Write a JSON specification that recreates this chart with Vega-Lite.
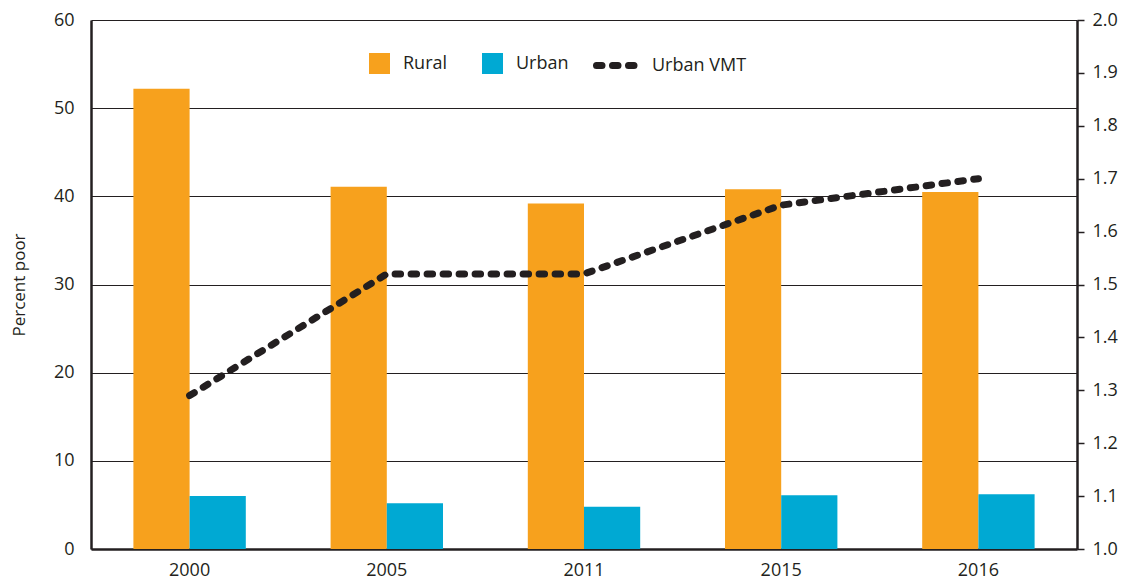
{
  "$schema": "https://vega.github.io/schema/vega-lite/v6.json",
  "width": 986,
  "height": 529,
  "autosize": "none",
  "padding": {"left": 91, "top": 20, "right": 53, "bottom": 34},
  "background": "white",
  "config": {
    "font": "Open Sans",
    "view": {"stroke": null},
    "axis": {"labelFont": "Open Sans", "titleFont": "Open Sans", "labelColor": "#231f20", "titleColor": "#231f20"}
  },
  "datasets": {
    "bars": [
      {"year": "2000", "type": "Rural", "value": 52.2},
      {"year": "2000", "type": "Urban", "value": 6.0},
      {"year": "2005", "type": "Rural", "value": 41.1},
      {"year": "2005", "type": "Urban", "value": 5.2},
      {"year": "2011", "type": "Rural", "value": 39.2},
      {"year": "2011", "type": "Urban", "value": 4.8},
      {"year": "2015", "type": "Rural", "value": 40.8},
      {"year": "2015", "type": "Urban", "value": 6.1},
      {"year": "2016", "type": "Rural", "value": 40.5},
      {"year": "2016", "type": "Urban", "value": 6.2}
    ],
    "vmt": [
      {"year": "2000", "series": "Urban VMT", "vmt": 1.29},
      {"year": "2005", "series": "Urban VMT", "vmt": 1.52},
      {"year": "2011", "series": "Urban VMT", "vmt": 1.52},
      {"year": "2015", "series": "Urban VMT", "vmt": 1.65},
      {"year": "2016", "series": "Urban VMT", "vmt": 1.70}
    ]
  },
  "layer": [
    {
      "data": {"name": "bars"},
      "mark": {"type": "bar"},
      "encoding": {
        "x": {
          "field": "year", "type": "nominal",
          "scale": {"paddingInner": 0.43, "paddingOuter": 0.215},
          "axis": {"title": null, "labelAngle": 0, "ticks": false, "domainColor": "#231f20", "domainWidth": 2.5, "labelFontSize": 18, "labelPadding": 12}
        },
        "xOffset": {"field": "type", "type": "nominal", "scale": {"paddingInner": 0, "paddingOuter": 0}},
        "y": {
          "field": "value", "type": "quantitative",
          "scale": {"domain": [0, 60], "nice": false},
          "axis": {
            "orient": "left", "values": [0, 10, 20, 30, 40, 50, 60], "ticks": false,
            "grid": true, "gridColor": "#231f20", "gridWidth": 1.2,
            "domainColor": "#231f20", "domainWidth": 2.5,
            "labelFontSize": 18, "labelPadding": 17,
            "title": "Percent poor", "titleFontWeight": "normal", "titleFontSize": 17, "titlePadding": 25
          }
        },
        "color": {
          "field": "type", "type": "nominal",
          "scale": {"domain": ["Rural", "Urban"], "range": ["#f7a11d", "#00a9d3"]},
          "legend": {
            "title": null, "orient": "none", "direction": "horizontal",
            "legendX": 278, "legendY": 33,
            "symbolType": "square", "symbolSize": 441, "symbolStrokeWidth": 0,
            "labelFontSize": 18, "labelColor": "#231f20", "labelOffset": 13, "columnPadding": 34
          }
        }
      }
    },
    {
      "data": {"name": "vmt"},
      "mark": {"type": "line", "strokeWidth": 7, "strokeCap": "round", "strokeDash": [5.5, 10.5]},
      "encoding": {
        "x": {"field": "year", "type": "nominal"},
        "y": {
          "field": "vmt", "type": "quantitative",
          "scale": {"domain": [1, 2], "nice": false, "zero": false},
          "axis": {
            "orient": "right", "values": [1.0, 1.1, 1.2, 1.3, 1.4, 1.5, 1.6, 1.7, 1.8, 1.9, 2.0], "format": ".1f",
            "grid": false, "ticks": true, "tickSize": 7, "tickColor": "#231f20", "tickWidth": 1.5,
            "domainColor": "#231f20", "domainWidth": 2.5,
            "labelFontSize": 18, "labelPadding": 8, "title": null
          }
        },
        "stroke": {
          "field": "series", "type": "nominal",
          "scale": {"domain": ["Urban VMT"], "range": ["#231f20"]},
          "legend": {
            "title": null, "orient": "none", "legendX": 502, "legendY": 22,
            "symbolType": "stroke", "symbolSize": 1600, "symbolStrokeWidth": 7, "symbolDash": [5.5, 10.5],
            "labelFontSize": 18, "labelColor": "#231f20", "labelOffset": 12,
            "encode": {"symbols": {"update": {"strokeCap": {"value": "round"}}}}
          }
        }
      }
    }
  ],
  "resolve": {"scale": {"y": "independent"}}
}
